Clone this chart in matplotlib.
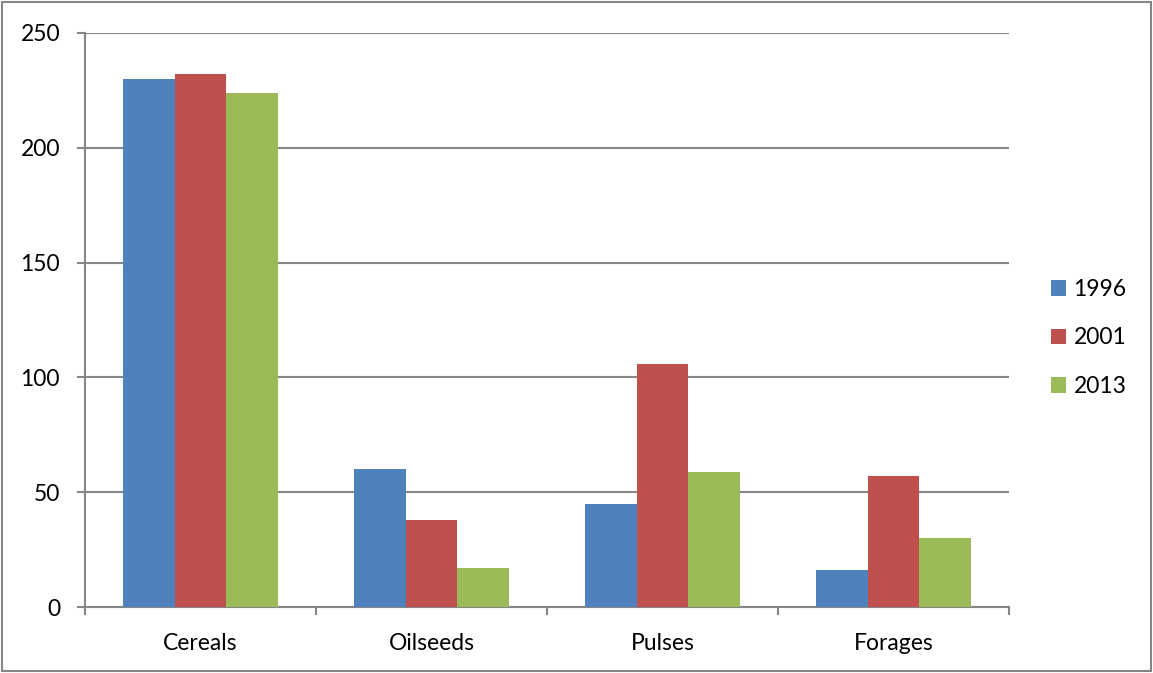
import numpy as np
import matplotlib
matplotlib.use('Agg')
import matplotlib.pyplot as plt
from matplotlib.patches import Rectangle

categories = ['Cereals', 'Oilseeds', 'Pulses', 'Forages']
years = ['1996', '2001', '2013']
v1996 = [230, 60, 45, 16]
v2001 = [232, 38, 106, 57]
v2013 = [224, 17, 59, 30]
colors = ['#4F81BD', '#C0504D', '#9BBB59']

plt.rcParams['font.family'] = ['Lato', 'DejaVu Sans']
grey = '#868686'

fig = plt.figure(figsize=(11.53, 6.73), dpi=100)
ax = fig.add_axes([85 / 1153, 66 / 673, 924 / 1153, 574 / 673])

x = np.arange(len(categories))
w = 0.223
for i, (vals, yr) in enumerate(zip([v1996, v2001, v2013], years)):
    ax.bar(x + (i - 1) * w, vals, width=w, color=colors[i], label=yr, zorder=3)

ax.set_xlim(-0.5, 3.5)
ax.set_ylim(0, 250)
ax.set_yticks(range(0, 251, 50))
ax.yaxis.grid(True, color=grey, linewidth=1.5, zorder=0)
ax.set_xticks(x)
ax.set_xticklabels(categories)
ax.set_xticks(np.arange(-0.5, 4, 1), minor=True)
ax.tick_params(axis='x', which='major', length=0, pad=19, labelsize=16.5)
ax.tick_params(axis='x', which='minor', length=6, width=1.5, color=grey)
ax.tick_params(axis='y', length=6, width=1.5, color=grey, pad=12, labelsize=16.5)

for s in ['top', 'right']:
    ax.spines[s].set_visible(False)
for s in ['left', 'bottom']:
    ax.spines[s].set_color(grey)
    ax.spines[s].set_linewidth(1.5)

leg = fig.legend(loc='center left', bbox_to_anchor=(1030 / 1153, 1 - 338 / 673),
                 frameon=False, fontsize=16.5, handlelength=0.65, handleheight=0.65,
                 handletextpad=0.35, labelspacing=1.2)

fig.patches.append(Rectangle((0.002, 0.003), 0.996, 0.994, transform=fig.transFigure,
                             fill=False, edgecolor=grey, linewidth=1.5))

fig.savefig('out.png', dpi=100)
